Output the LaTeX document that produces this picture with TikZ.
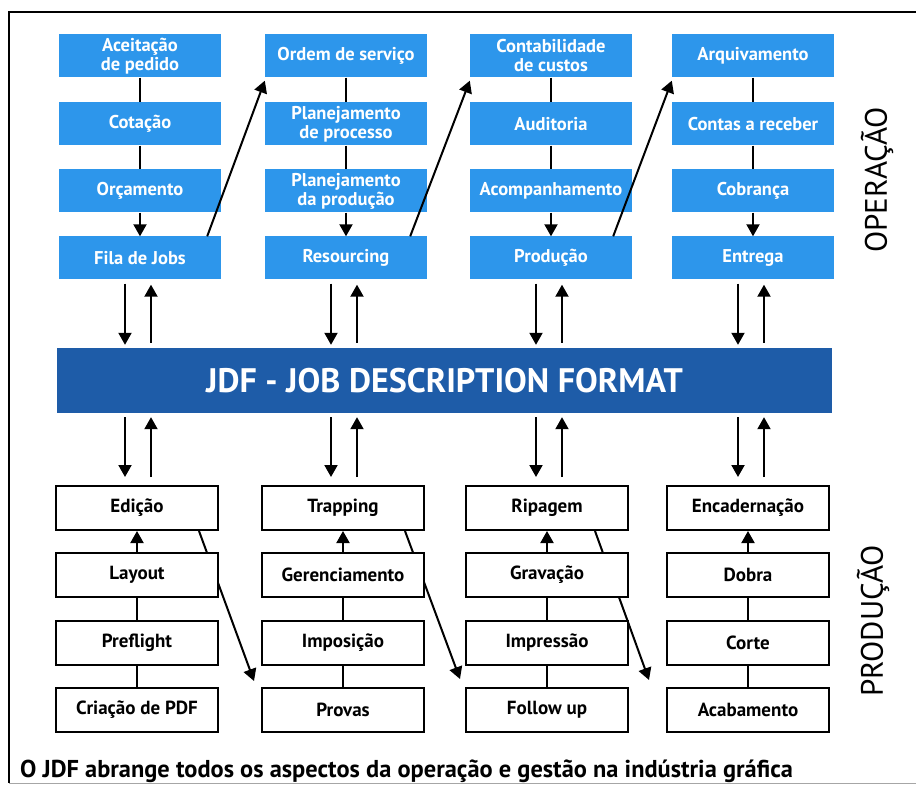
\documentclass[tikz,border=0pt]{standalone}
\usepackage{fontspec}
\setmainfont{PT Sans}
\usetikzlibrary{calc}
\usetikzlibrary{arrows.meta}
\usetikzlibrary{backgrounds}

\definecolor{opblue}{RGB}{45,150,235}
\definecolor{jdfblue}{RGB}{30,92,168}

\tikzset{%
  opbox/.style={fill=opblue,text=white,minimum width=162,minimum height=43,inner sep=0,align=center,font=\bfseries\fontsize{18.5}{19}\selectfont},%
  prodbox/.style={draw=black,line width=2,fill=white,minimum width=162,minimum height=44,inner sep=0,align=center,font=\bfseries\fontsize{19}{19}\selectfont},%
  link/.style={line width=2},%
  flow/.style={line width=2,-{Triangle[length=12pt,width=13pt]}},%
}

\begin{document}
\begin{tikzpicture}[x=1pt,y=1pt]%
\useasboundingbox (0,0) rectangle (916,-786);%
\draw[line width=2] (916,-12) -- (9,-12) -- (9,-783);%
\draw[line width=1,black!35] (9,-783) -- (916,-783);%
% operacao
\node[opbox] (aceit) at (140,-56) {Aceitação\\de pedido};%
\node[opbox] (cotacao) at (140,-124) {Cotação};%
\node[opbox] (orcam) at (140,-191) {Orçamento};%
\node[opbox] (fila) at (140,-258) {Fila de Jobs};%
\node[opbox] (ordem) at (346,-56) {Ordem de serviço};%
\node[opbox] (planproc) at (346,-124) {Planejamento\\de processo};%
\node[opbox] (planprod) at (346,-191) {Planejamento\\da produção};%
\node[opbox] (resourcing) at (346,-258) {Resourcing};%
\node[opbox] (contab) at (551,-56) {Contabilidade\\de custos};%
\node[opbox] (auditoria) at (551,-124) {Auditoria};%
\node[opbox] (acomp) at (551,-191) {Acompanhamento};%
\node[opbox] (producao) at (551,-258) {Produção};%
\node[opbox] (arquiv) at (753,-56) {Arquivamento};%
\node[opbox] (contas) at (753,-124) {Contas a receber};%
\node[opbox] (cobranca) at (753,-191) {Cobrança};%
\node[opbox] (entrega) at (753,-258) {Entrega};%
% barra JDF
\node[fill=jdfblue,text=white,minimum width=775,minimum height=65,inner sep=0,font=\bfseries\fontsize{34}{34}\selectfont] (jdf) at (444.5,-380.5) {JDF - JOB DESCRIPTION FORMAT};%
% producao
\node[prodbox] (edicao) at (137,-508) {Edição};%
\node[prodbox] (layout) at (137,-575) {Layout};%
\node[prodbox] (preflight) at (137,-643) {Preflight};%
\node[prodbox] (criacao) at (137,-710) {Criação de PDF};%
\node[prodbox] (trapping) at (343,-508) {Trapping};%
\node[prodbox] (gerenc) at (343,-575) {Gerenciamento};%
\node[prodbox] (imposicao) at (343,-643) {Imposição};%
\node[prodbox] (provas) at (343,-710) {Provas};%
\node[prodbox] (ripagem) at (547,-508) {Ripagem};%
\node[prodbox] (gravacao) at (547,-575) {Gravação};%
\node[prodbox] (impressao) at (547,-643) {Impressão};%
\node[prodbox] (followup) at (547,-710) {Follow up};%
\node[prodbox] (encad) at (748,-508) {Encadernação};%
\node[prodbox] (dobra) at (748,-575) {Dobra};%
\node[prodbox] (corte) at (748,-643) {Corte};%
\node[prodbox] (acab) at (748,-710) {Acabamento};%
% rotulos
\node[rotate=90,font=\fontsize{31}{31}\selectfont] (operacao) at (877,-180) {OPERAÇÃO};%
\node[rotate=90,font=\fontsize{31}{31}\selectfont] (producaolbl) at (873,-621) {PRODUÇÃO};%
\node[anchor=base west,inner sep=0,font=\bfseries\fontsize{24.4}{25}\selectfont] (legenda) at (20,-777) {O JDF abrange todos os aspectos da operação e gestão na indústria gráfica};%
% ligacoes operacao
\draw[link] (aceit) -- (cotacao);%
\draw[link] (cotacao) -- (orcam);%
\draw[flow] (orcam) -- (fila);%
\draw[link] (ordem) -- (planproc);%
\draw[link] (planproc) -- (planprod);%
\draw[flow] (planprod) -- (resourcing);%
\draw[link] (contab) -- (auditoria);%
\draw[link] (auditoria) -- (acomp);%
\draw[flow] (acomp) -- (producao);%
\draw[link] (arquiv) -- (contas);%
\draw[link] (contas) -- (cobranca);%
\draw[flow] (cobranca) -- (entrega);%
\draw[flow] ([xshift=-14]fila.north east) -- ([yshift=-3]ordem.south west);%
\draw[flow] ([xshift=-17]resourcing.north east) -- ([yshift=-3]contab.south west);%
\draw[flow] ([xshift=-19]producao.north east) -- ([yshift=-3]arquiv.south west);%
% ligacoes producao
\draw[flow] (layout) -- (edicao);%
\draw[link] (layout) -- (preflight);%
\draw[link] (preflight) -- (criacao);%
\draw[flow] (gerenc) -- (trapping);%
\draw[link] (gerenc) -- (imposicao);%
\draw[link] (imposicao) -- (provas);%
\draw[flow] (gravacao) -- (ripagem);%
\draw[link] (gravacao) -- (impressao);%
\draw[link] (impressao) -- (followup);%
\draw[flow] (dobra) -- (encad);%
\draw[link] (dobra) -- (corte);%
\draw[link] (corte) -- (acab);%
\begin{scope}[on background layer]%
\draw[flow] ([xshift=-20]edicao.south east) -- ([shift={(-7,6)}]provas.north west);%
\draw[flow] ([xshift=-20]trapping.south east) -- ([shift={(-5,8)}]followup.north west);%
\draw[flow] ([xshift=-34]ripagem.south east) -- ([shift={(-17,7)}]acab.north west);%
\end{scope}%
% setas JDF
\draw[flow,shorten <=4,shorten >=3] ([xshift=-15]fila.south) -- ([xshift=-15]fila.south |- jdf.north);%
\draw[flow,shorten <=5,shorten >=5] ([xshift=11]fila.south |- jdf.north) -- ([xshift=11]fila.south);%
\draw[flow,shorten <=4,shorten >=3] ([xshift=-15]resourcing.south) -- ([xshift=-15]resourcing.south |- jdf.north);%
\draw[flow,shorten <=5,shorten >=5] ([xshift=11]resourcing.south |- jdf.north) -- ([xshift=11]resourcing.south);%
\draw[flow,shorten <=4,shorten >=3] ([xshift=-15]producao.south) -- ([xshift=-15]producao.south |- jdf.north);%
\draw[flow,shorten <=5,shorten >=5] ([xshift=11]producao.south |- jdf.north) -- ([xshift=11]producao.south);%
\draw[flow,shorten <=4,shorten >=3] ([xshift=-15]entrega.south) -- ([xshift=-15]entrega.south |- jdf.north);%
\draw[flow,shorten <=5,shorten >=5] ([xshift=11]entrega.south |- jdf.north) -- ([xshift=11]entrega.south);%
\draw[flow,shorten <=4,shorten >=8] ([xshift=-15]fila.south |- jdf.south) -- ([xshift=-15]fila.south |- edicao.north);%
\draw[flow,shorten <=8,shorten >=4] ([xshift=11]fila.south |- edicao.north) -- ([xshift=11]fila.south |- jdf.south);%
\draw[flow,shorten <=4,shorten >=8] ([xshift=-15]resourcing.south |- jdf.south) -- ([xshift=-15]resourcing.south |- trapping.north);%
\draw[flow,shorten <=8,shorten >=4] ([xshift=11]resourcing.south |- trapping.north) -- ([xshift=11]resourcing.south |- jdf.south);%
\draw[flow,shorten <=4,shorten >=8] ([xshift=-15]producao.south |- jdf.south) -- ([xshift=-15]producao.south |- ripagem.north);%
\draw[flow,shorten <=8,shorten >=4] ([xshift=11]producao.south |- ripagem.north) -- ([xshift=11]producao.south |- jdf.south);%
\draw[flow,shorten <=4,shorten >=8] ([xshift=-15]entrega.south |- jdf.south) -- ([xshift=-15]entrega.south |- encad.north);%
\draw[flow,shorten <=8,shorten >=4] ([xshift=11]entrega.south |- encad.north) -- ([xshift=11]entrega.south |- jdf.south);%
\end{tikzpicture}
\end{document}
